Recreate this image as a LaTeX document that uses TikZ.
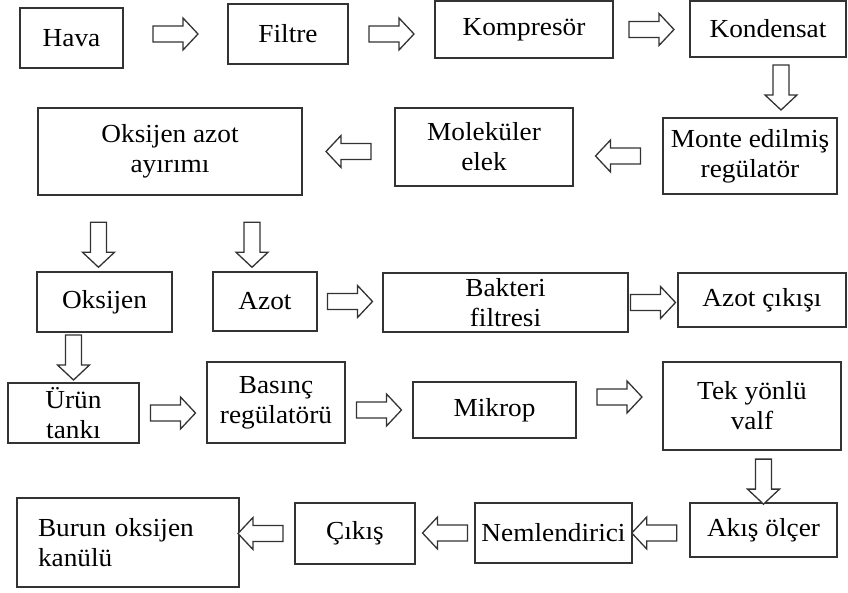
\documentclass[tikz,border=0pt]{standalone}
\usepackage{fontspec}
\setmainfont{Liberation Serif}[FakeStretch=1.05]
\usepackage{tikz}
\usetikzlibrary{calc}

\tikzset{
  box/.style={draw=black!80, line width=1.8pt, inner sep=2pt, align=center,
    font=\fontsize{26}{30}\selectfont},
  % hollow block arrow set in the gap between two boxes
  flow/.style={draw=black!80, line width=1.3pt, fill=white, line join=miter,
    to path={let \p1=($(\tikztostart)!#1!(\tikztotarget)$), \p2=(\tikztotarget),
      \p3=($(\p1)!-22.5pt!(\p2)$), \p4=($(\p1)!7.5pt!(\p2)$) in
      ($(\p3)!8pt!90:(\p2)$) -- ($(\p4)!8pt!90:(\p2)$) -- ($(\p4)!16pt!90:(\p2)$)
      -- ($(\p1)!22.5pt!(\p2)$) -- ($(\p4)!16pt!-90:(\p2)$) -- ($(\p4)!8pt!-90:(\p2)$)
      -- ($(\p3)!8pt!-90:(\p2)$) -- cycle}},
  flow/.default=0.5
}

\begin{document}
\begin{tikzpicture}[x=1pt, y=-1pt]
  \useasboundingbox (0,0) rectangle (848,593);

  % Row 1: air intake
  \node[box, minimum width=103pt, minimum height=60pt] (hava) at (71.5,38) {Hava};
  \node[box, minimum width=120pt, minimum height=60pt] (filtre) at (288,34) {Filtre};
  \node[box, minimum width=178pt, minimum height=57pt] (kompresor) at (524,29.5) {Kompresör};
  \node[box, minimum width=156pt, minimum height=56pt] (kondensat) at (768,29) {Kondensat};

  % Row 2: separation, right to left
  \node[box, minimum width=174pt, minimum height=76pt] (monte) at (750,156) {Monte edilmiş\\regülatör};
  \node[box, minimum width=178pt, minimum height=78pt] (elek) at (484,147) {Moleküler\\elek};
  \node[box, minimum width=264pt, minimum height=87pt] (ayirim) at (170,151.5) {Oksijen azot\\ayırımı};

  % Row 3: the two gases
  \node[box, minimum width=135pt, minimum height=60pt] (oksijen) at (104.5,302) {Oksijen};
  \node[box, minimum width=104pt, minimum height=59pt] (azot) at (265,301.5) {Azot};
  \node[box, minimum width=245pt, minimum height=59pt] (bakteri) at (505.5,302.5) {Bakteri\\filtresi};
  \node[box, minimum width=168pt, minimum height=54pt] (azotcikis) at (762,300) {Azot çıkışı};

  % Row 4: oxygen line
  \node[box, minimum width=131pt, minimum height=60pt] (urun) at (73.5,413) {Ürün\\tankı};
  \node[box, minimum width=138pt, minimum height=81pt] (basinc) at (276,402.5) {Basınç\\regülatörü};
  \node[box, minimum width=163pt, minimum height=56pt] (mikrop) at (494.5,410) {Mikrop};
  \node[box, minimum width=178pt, minimum height=88pt] (tekyon) at (752,406) {Tek yönlü\\valf};

  % Row 5: to the patient, right to left
  \node[box, minimum width=147pt, minimum height=54pt] (akis) at (763.5,530) {Akış ölçer};
  \node[box, minimum width=157pt, minimum height=60pt] (nemlen) at (553.5,533) {Nemlendirici};
  \node[box, minimum width=120pt, minimum height=61pt] (cikis) at (355,533.5) {Çıkış};
  \node[box, text width=180pt, inner xsep=21pt, align=left, minimum height=89pt] (burun) at (128,542.5) {Burun oksijen\\kanülü};

  % Arrows
  \draw[flow] (filtre.west -| hava.east) to (filtre.west);
  \draw[flow] (filtre.east) to (filtre.east -| kompresor.west);
  \draw[flow] (kompresor.east) to (kompresor.east -| kondensat.west);
  \draw[flow] ($(kondensat.south)+(13pt,0)$) to ($(monte.north)+(31pt,0)$);
  \draw[flow] (monte.west) to (monte.west -| elek.east);
  \draw[flow] (ayirim.east -| elek.west) to (ayirim.east);
  \draw[flow=0.65] ($(oksijen.north |- ayirim.south)+(-6pt,0)$) to ($(oksijen.north)+(-6pt,0)$);
  \draw[flow=0.65] ($(azot.north |- ayirim.south)+(-13pt,0)$) to ($(azot.north)+(-13pt,0)$);
  \draw[flow] (urun.north |- oksijen.south) to (urun.north);
  \draw[flow] (azot.east) to (azot.east -| bakteri.west);
  \draw[flow] (bakteri.east) to (bakteri.east -| azotcikis.west);
  \draw[flow] (urun.east) to (urun.east -| basinc.west);
  \draw[flow] (mikrop.west -| basinc.east) to (mikrop.west);
  \draw[flow] ($(mikrop.east)+(0,13pt)$) to ($(mikrop.east -| tekyon.west)+(0,13pt)$);
  \draw[flow=0.6] (akis.north |- tekyon.south) to (akis.north);
  \draw[flow=0.62] (nemlen.east -| akis.west) to (nemlen.east);
  \draw[flow] (nemlen.west) to (nemlen.west -| cikis.east);
  \draw[flow=0.62] (cikis.west) to (cikis.west -| burun.east);
\end{tikzpicture}
\end{document}
